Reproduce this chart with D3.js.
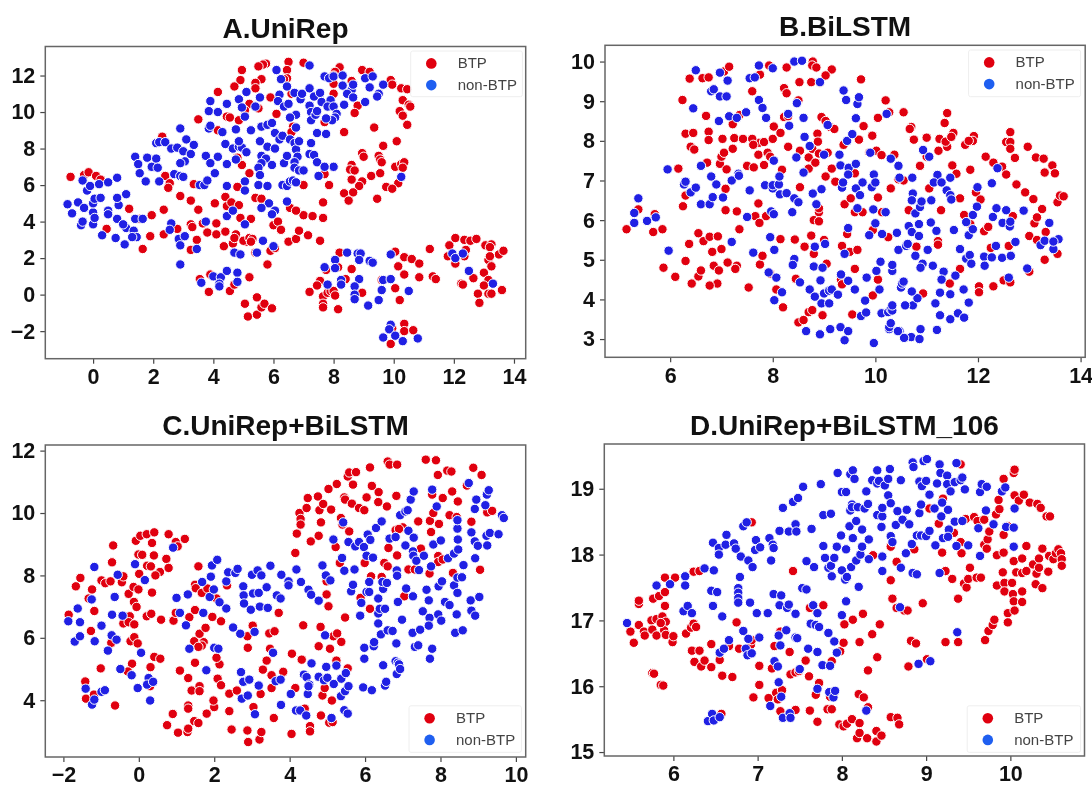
<!DOCTYPE html>
<html>
<head>
<meta charset="utf-8">
<script src="https://cdnjs.cloudflare.com/ajax/libs/d3/7.8.5/d3.min.js"></script>
<style>
  html, body { margin: 0; background: #fff; }
  svg { display: block; filter: blur(0.55px); font-family: "Liberation Sans", Arial, sans-serif; }
</style>
</head>
<body>
<div id="chart"></div>
<script>
var seriesNames = ["BTP", "non-BTP"];

var aBtp = [[5.75,12.65],[5.65,12.6],[5.5,12.5],[6.5,12.75],[6.45,12.3],[7,12.7],[4.95,12.3],[4.9,11.75],[5.6,11.8],[5.4,11.6],[4.7,11.4],[5.4,11.3],[4.15,11.1],[6.45,11.85],[6.35,11.8],[6.6,11],[5.9,10.8],[8.2,12.45],[8.05,12.2],[8,12],[8.95,12.3],[9.2,12.2],[8.6,11.7],[8,11.55],[9.9,11.75],[9.95,11.5],[10.25,11.3],[10.45,11.25],[9.5,11],[8,11],[10.3,10.65],[10.5,10.4],[10.55,10.3],[10.2,10.05],[10.3,9.8],[8.8,10.35],[8.7,9.95],[6.1,9.9],[5.2,10.45],[5.05,10.1],[5.5,10.2],[4.45,9.75],[4.55,9.7],[4.85,9.55],[3.5,9.6],[10.45,9.3],[9.35,9.15],[8.35,8.9],[7.7,9.45],[6.65,9.2],[6.6,8.9],[4.15,9],[2.3,8.65],[10.1,8.4],[9.65,8.15],[8.95,7.75],[9,7.55],[9.5,7.6],[9.55,7.4],[9.6,7.25],[10.05,7],[10.25,7.15],[10.35,7.25],[10.3,6.95],[8.6,7.1],[8.55,6.85],[8.7,6.8],[8.6,6.3],[8.95,6.2],[8.85,5.95],[9.25,6.5],[9.55,6.65],[10.15,6.1],[9.75,5.9],[9.95,5.8],[9.45,5.25],[8.35,5.55],[8.65,5.6],[8.5,5.15],[8,7],[7.7,6.6],[7.85,6],[7,6],[4.95,7.1],[5.2,6.65],[4.8,7.5],[2.4,6.5],[2.55,6.1],[2.5,5.85],[3.35,6.05],[-0.75,6.45],[-0.3,6.55],[-0.15,6.7],[0.1,6.5],[0.25,6.3],[2.9,5.4],[3.25,5.15],[3.5,4.65],[1.2,4.7],[1.55,4.15],[1.95,4.35],[2.35,4.65],[0.45,3.6],[1.9,3.2],[2.35,3.3],[1.65,2.5],[2.8,3.6],[3.25,3.85],[3.3,3.7],[3.65,3.9],[3.45,3],[3.8,3.4],[3.25,2.45],[4.1,3.9],[4.1,3.3],[4.4,3.45],[4.35,2.65],[4.65,2.8],[4.75,3.3],[4.7,3.1],[5.1,2.9],[5,2.95],[5.2,3.1],[5.3,3.05],[5.25,2.9],[4.9,4.2],[5.25,4.15],[5.4,2.3],[5.9,2.4],[6.05,2.55],[5.8,1.65],[6,3.8],[6.15,4],[6.25,3.55],[6.5,2.9],[6.75,3.05],[6.85,3.5],[7.15,3.25],[7.55,2.95],[7,4.35],[7.3,4.3],[7.65,4.2],[6.55,4.75],[6.75,4.6],[4.05,5],[4.45,4.85],[4.4,5.35],[4.6,5.05],[4.85,4.9],[4.8,5.9],[5.4,5.3],[5.6,5.25],[7.65,5.05],[3.9,1.1],[3.55,0.85],[3.85,0.15],[4.55,0.2],[4.7,0.55],[5.2,0.95],[5.05,-0.5],[5.15,-1.2],[5.45,-0.15],[5.45,-1.1],[5.6,-0.7],[5.7,-0.5],[5.95,-0.75],[8.2,2.3],[8.15,1.5],[7.75,1.35],[8.4,0.85],[8.6,1.4],[7.2,0.15],[7.55,0.75],[7.45,0.5],[7.65,-0.1],[7.8,0.1],[7.9,0.2],[8,0.2],[8.05,-0.05],[7.65,-0.5],[7.65,-0.7],[8.15,-0.8],[8.95,0.1],[10.05,2.35],[10.35,2.05],[10.6,1.95],[10.85,1.7],[10.15,1.55],[10.35,1.1],[10.85,0.95],[9.6,0.8],[10.05,0.35],[10.2,-0.3],[11.2,2.5],[11.3,1],[11.4,0.85],[9.95,-1.85],[10.35,-1.6],[10.35,-2],[10.65,-1.95],[9.9,-2.7],[12.05,3.1],[11.85,2.7],[12.35,3],[12.55,2.95],[12.75,3.05],[13.05,2.7],[13.25,2.75],[13.2,2.6],[12.4,2.45],[12.35,2.1],[13.5,2.2],[13.65,2.4],[11.8,2.1],[12.05,1.7],[13.15,1.9],[13.25,1.55],[13.2,2.1],[13,1.2],[13.15,0.8],[12.65,0.9],[13,0.5],[12.8,0.05],[12.85,-0.45],[13.15,0.05],[13.25,0.05],[12.25,0.6],[12.3,0.55],[13.6,0.25]];
var aNon = [[-0.85,4.95],[-0.7,4.45],[-0.5,5.05],[-0.3,4.75],[-0.4,3.8],[-0.35,4],[0,3.85],[0,4.5],[0,5],[0.05,5.25],[0.05,4.2],[0.25,5.3],[0.5,4.6],[0.5,4.4],[0.85,4.9],[0.8,5.3],[1.1,5.5],[0.8,4.15],[1.1,3.65],[1,3.85],[1.35,3.5],[1.45,3.15],[1.3,3.15],[0.3,3.25],[0.75,3.1],[1.05,2.75],[1.4,4.15],[1.65,4.15],[-0.35,6.25],[-0.2,5.7],[-0.1,5.95],[0.2,6.05],[0.5,6.15],[0.8,6.4],[1.4,7.55],[1.5,7.15],[1.55,6.65],[1.75,6.2],[1.8,7.5],[2.05,7],[2.1,7.45],[1.95,7],[2.15,6.95],[2.2,6.2],[2.1,8.3],[2.2,8.35],[2.4,8.35],[2.6,8],[2.9,9.1],[2.8,8.05],[3,7.85],[3.1,8.5],[3.35,8.2],[3.25,7.7],[3.05,7.3],[2.9,7.2],[2.7,6.6],[2.9,6.5],[3,6.45],[3.55,6],[3.7,6],[3.8,6.25],[3.75,7.6],[3.9,7.2],[4.05,6.65],[4.15,7.55],[4.45,7.15],[4.75,7.4],[4.45,5.95],[5.05,6.2],[5.05,5.7],[3.9,10.6],[3.85,10.05],[4.15,10],[4.45,10.45],[4.85,10.7],[5.1,11.1],[4.95,10.25],[5.05,9.75],[5.4,10.3],[3.85,9.1],[3.9,9.25],[4.3,8.9],[4.75,9.05],[5.25,9],[5.6,9.2],[5.8,9.3],[5.95,9.4],[4.4,8.25],[4.65,8],[4.85,8.1],[4.95,8.05],[4.85,8.4],[5.1,7.8],[5.55,8.4],[5.6,7.6],[5.8,8.1],[5.75,7.45],[5.6,7.2],[5.5,6.95],[5.55,6.55],[5.5,6],[5.8,5.95],[5.95,7.1],[6.05,8],[6.05,8.85],[6.2,8.5],[6.3,8.7],[6.35,7.2],[6.45,7.6],[6.55,8.5],[6.7,8.3],[6.75,7.95],[6.85,8.4],[6.8,7.55],[6.7,7.25],[6.7,6.95],[6.85,6.8],[7,6.8],[6.3,6],[6.45,5.95],[6.55,6.2],[6.65,6.25],[6.75,6.15],[7.2,7.7],[7.35,7.65],[7.45,7.25],[7.5,6.5],[8,7],[7.7,7],[7.25,8.3],[7.45,8.85],[7.75,8.8],[6.45,5.1],[5.85,5],[5.6,4.75],[6.05,4.6],[5.95,4.4],[4.45,4.3],[4.65,4.6],[2.6,3.9],[2.55,3.55],[2.85,3.05],[3.05,3.2],[2.9,2.7],[3.45,2.5],[3.75,4],[5.05,3.85],[4.7,2.3],[4.9,2.2],[5.45,2.3],[5.65,2.95],[6,2.65],[2.9,1.65],[4,1],[3.6,0.65],[4.25,0.95],[4.2,0.6],[4.2,0.45],[4.45,1.3],[4.8,1.2],[4.8,0.7],[6.1,12.3],[6.25,11.8],[6.45,11.4],[7.2,12.55],[7.7,11.95],[7.85,11.85],[8,11.95],[8.3,12],[8.3,11.45],[8.6,11.2],[8.65,11.5],[8.45,11],[8.65,10.8],[8.35,10.4],[9.05,11.85],[9.3,11.95],[9.2,11.35],[9.5,11],[9.65,11.5],[9.45,10.85],[9.05,10.55],[6.2,10.95],[6.15,10.6],[6.35,10.3],[6.5,10.45],[6.7,11.05],[6.9,10.7],[6.95,11],[7.2,11.3],[7.35,10.85],[7.2,10.35],[7.55,11.05],[7.25,10],[7.25,9.55],[7.4,9.85],[7.45,10.05],[7.6,10.55],[7.9,10.65],[7.8,10.3],[8,10.3],[8.1,9.9],[8.05,9.7],[7.95,9.55],[7.75,9.65],[6.75,9.85],[6.55,9.7],[6.75,9.15],[5.55,10.8],[7.7,1.5],[8.05,1.9],[8.05,1.45],[8.25,0.8],[8.25,0.55],[7.8,0.55],[8.45,2.3],[8.8,2.25],[8.9,2.25],[8.85,1.9],[9.2,1.85],[9.3,1.75],[8.85,0.85],[8.7,0.45],[8.7,0],[8.7,-0.25],[9.15,-0.6],[9.5,-0.3],[9.65,0.8],[9.6,0.25],[9.9,0.85],[9.9,2.2],[10.5,0.2],[9.9,-1.65],[9.85,-1.9],[10.05,-2.25],[9.65,-2.35],[10.3,-2.55],[10.8,-2.4],[11.95,2.25],[12.05,2],[12.3,2.25],[12.5,1.3],[13.3,0.6],[10.25,6.45]];

var bBtp = [[5.15,5.77],[5.38,6.27],[5.7,6.15],[5.67,5.7],[5.85,5.77],[5.87,4.8],[6.1,4.57],[6.16,7.3],[6.24,9.03],[6.3,8.18],[6.45,8.2],[6.25,6.35],[6.3,6.62],[6.38,9.57],[6.4,7.85],[6.47,7.78],[6.37,5.4],[6.3,4.97],[6.55,5.67],[6.42,4.4],[6.55,4.58],[6.6,4.73],[6.65,5.47],[6.7,8.63],[6.72,7.45],[6.75,8.23],[6.75,8.02],[6.63,9.58],[6.75,9.6],[6.77,5.58],[6.85,4.85],[6.82,5.2],[6.93,5.59],[6.95,4.73],[6.92,4.4],[6.77,4.35],[7,5.27],[6.97,7.42],[7,7.6],[7.02,8.05],[7.05,9.75],[7.1,7.28],[7.05,7.7],[7.08,6.79],[7.08,6.25],[7.15,9.87],[7.12,4.93],[7.25,8.07],[7.22,7.8],[7.3,4.85],[7.3,6.22],[7.35,5.77],[7.27,4.77],[7.22,8.42],[7.35,8.65],[7.42,8.05],[7.5,7.37],[7.53,4.3],[7.66,6.1],[7.73,7.95],[7.72,6.42],[7.6,8.05],[7.62,7.9],[7.63,7.33],[7.6,9.25],[7.75,9.67],[7.72,7.65],[7.74,5.93],[7.83,7.39],[7.83,7.97],[7.87,6.1],[7.9,7.7],[7.95,7.6],[7.93,9.9],[7.75,4.88],[7.8,5.1],[7.95,4.65],[8,8.05],[8.02,8.36],[8.15,8.2],[8.07,4.25],[8.15,5.52],[8.18,7.27],[8.22,9.33],[8.27,9.85],[8.27,9.2],[8.22,8.6],[8.3,8.62],[8.2,3.8],[8.3,7.85],[8.43,5.51],[8.45,4.52],[8.5,9.02],[8.5,3.42],[8.52,9.48],[8.53,7.75],[8.53,6.83],[8.6,3.48],[8.62,5.33],[8.7,7.58],[8.7,7.3],[8.7,3.68],[8.77,3.73],[8.75,5.61],[8.77,7.8],[8.87,8.18],[8.88,7.98],[8.75,9.48],[8.92,9.47],[8.78,10],[8.77,9.9],[8.85,9.85],[9.15,9.8],[9.03,9.65],[8.83,7.45],[8.9,7.68],[9.07,7.7],[8.95,8.6],[9.03,8.5],[9.12,8.35],[9.2,8.3],[8.8,6],[8.9,6.2],[8.9,5.97],[9.03,7.1],[9.15,7.3],[9.22,6.97],[9,5.5],[9.05,4.9],[8.8,5.15],[8.97,3.6],[9.33,4.5],[9.4,6.4],[9.35,5.35],[9.45,5.65],[9.5,5.2],[9.38,7.9],[9.65,5.25],[9.6,4.77],[9.52,6.55],[9.6,6.2],[9.6,7.18],[9.72,9.55],[9.77,8.37],[9.68,8.03],[9.75,6.2],[9.35,4.38],[9.55,3.62],[9.88,7.7],[10.02,7.75],[9.94,8.13],[9.95,4.1],[10.05,6.57],[10.05,8.58],[10.05,4.5],[10.12,7.64],[10.13,6.2],[10.25,5.57],[10.2,9.02],[9.95,5.75],[10.27,8.72],[10.3,6.8],[10.37,7.65],[10.45,7.03],[10.55,7],[10.55,8.72],[10.65,6.25],[10.7,8.35],[10.67,8.3],[10.75,8.03],[10.8,5.33],[10.93,4.15],[10.87,7.37],[11,7.6],[11,8.08],[11.05,6.8],[11.25,8.05],[11.23,7.75],[11.22,5.47],[11.22,5.38],[11.4,8.7],[11.35,8.45],[11.4,7.85],[11.37,7.98],[11.28,6.25],[11.45,4.4],[11.5,7.38],[11.52,8.2],[11.48,8.1],[11.58,7.17],[11.65,4.77],[11.65,6.55],[11.75,7.9],[11.73,6.13],[11.85,7.27],[11.85,5.9],[11.92,8.12],[11.9,8],[11.82,8],[11.96,6.7],[12.02,4.33],[12.02,4.18],[12.05,6.52],[12.15,7.6],[12.12,5.72],[12.2,5.83],[12.25,5.3],[12.3,7.45],[12.47,7.35],[12.3,4.33],[12.5,4.48],[12.55,7.15],[12.6,5.35],[12.55,7.97],[12.63,8.22],[12.63,7.97],[12.63,7.8],[12.63,4.43],[12.68,6.1],[12.72,7.57],[12.75,6.9],[12.92,6.7],[12.97,7.85],[13,5.6],[13,4.7],[13.08,6.53],[13.13,7.58],[13.1,5.92],[13.15,6.07],[13.15,5.5],[13.28,7.55],[13.25,6.28],[13.3,7.2],[13.32,5.7],[13.3,5],[13.45,7.38],[13.5,7.18],[13.55,6.45],[13.6,6.62],[13.67,6.6],[13.55,5.15],[8.9,6.3]];
var bNon = [[5.3,5.93],[5.3,6.18],[5.38,6.55],[5.55,5.98],[5.72,6.07],[5.95,7.28],[5.97,5.23],[6.27,6.9],[6.3,6.97],[6.4,6.7],[6.5,6.82],[6.45,8.82],[6.5,9.78],[6.6,7.37],[6.6,6.4],[6.77,6.4],[6.8,7.1],[6.8,9.25],[6.85,9.3],[6.83,6.58],[6.9,6.9],[6.95,8.5],[6.97,9.12],[6.97,9.72],[7.03,6.57],[7.1,9.12],[7.12,9.52],[7.15,8.62],[7.2,7],[7.2,5.45],[7.3,8.58],[7.33,7.17],[7.34,7.12],[7.5,6.08],[7.48,8.72],[7.55,9.58],[7.55,6.75],[7.62,5.18],[7.65,9.6],[7.73,9.9],[7.73,9.03],[7.8,8.83],[7.85,6.88],[7.87,8.58],[7.92,4.68],[7.95,5.57],[7.97,6.22],[8,6.8],[8,6.88],[8,9.83],[8.02,6.15],[8.02,7.5],[8.03,5.25],[8.03,3.98],[8.07,4.55],[8.12,6.9],[8.13,7.1],[8.14,6.65],[8.18,4.18],[8.27,6.68],[8.3,8.68],[8.32,8.38],[8.38,6.2],[8.42,6.55],[8.42,5.02],[8.39,4.87],[8.42,10],[8.46,7.58],[8.47,8.95],[8.5,6.45],[8.53,4.43],[8.57,10.02],[8.6,8.58],[8.6,7.2],[8.62,8.1],[8.65,3.2],[8.72,7.87],[8.72,4.25],[8.78,6.67],[8.8,4.83],[8.82,4.07],[8.82,5.33],[8.85,6.4],[8.92,9.48],[8.92,3.12],[8.93,4.48],[8.95,3.9],[8.95,6.78],[8.97,4.8],[9,4.15],[9,7.65],[9.02,5.4],[9.07,8.4],[9.1,4.22],[9.1,3.9],[9.15,4.25],[9.12,3.25],[9.27,4.12],[9.32,3.3],[9.33,4.63],[9.32,7.38],[9.3,7.65],[9.35,6.82],[9.37,6.95],[9.38,9.27],[9.43,9.03],[9.4,2.97],[9.4,5.15],[9.47,3.2],[9.47,5.8],[9.48,7.32],[9.47,7.15],[9.47,4.47],[9.45,8],[9.55,8.17],[9.6,4.25],[9.62,8.57],[9.62,6.8],[9.62,7.42],[9.65,8.93],[9.68,9.1],[9.65,6.3],[9.7,6.63],[9.72,3.58],[9.75,6.95],[9.82,3.67],[9.8,3.97],[9.83,4.55],[9.93,6.83],[9.97,7.15],[10,6.95],[9.9,7.7],[9.88,5.62],[9.97,2.9],[9.96,6.27],[10,5.92],[10.02,4.72],[10.08,4.25],[10.1,4.95],[10.13,5.65],[10.2,6.2],[10.12,3.65],[10.22,8.68],[10.3,7.55],[10.25,3.68],[10.27,3.25],[10.27,3.3],[10.3,3.4],[10.3,3.75],[10.33,3.72],[10.33,3.85],[10.33,4.72],[10.33,4.87],[10.42,5.68],[10.45,5.25],[10.47,3.2],[10.47,7.07],[10.5,4.3],[10.52,4.4],[10.55,4.45],[10.45,7.37],[10.72,7.07],[10.65,5.85],[10.7,3.05],[10.73,3.85],[10.73,6.67],[10.6,5.35],[10.63,5.4],[10.71,6.5],[10.78,6.17],[10.85,5.9],[10.71,5.7],[10.85,5.6],[10.78,5.1],[10.92,4.9],[10.88,4.8],[11.12,4.85],[11.02,5.25],[10.87,6.33],[10.9,6.47],[11.09,6.5],[11.08,5.94],[11.19,5.73],[11.21,7.14],[11.14,6.95],[11.29,6.95],[11.05,7.6],[10.93,7.77],[11.39,6.75],[11.46,6.63],[11.48,6.52],[11.46,7.07],[11.53,5.75],[11.65,5.27],[11.77,5.03],[11.84,5.12],[11.87,4.9],[11.56,4.6],[11.33,4.7],[11.29,4.5],[11.26,4.17],[11.17,3.9],[11.26,3.6],[11.2,3.23],[10.88,3.25],[10.86,3],[10.82,4.03],[10.71,4.2],[10.58,3.85],[10.56,3.03],[10.44,3.2],[11.46,3.5],[11.46,4.13],[11.61,3.65],[11.73,3.54],[11.72,4.25],[11.82,3.92],[11.77,5.95],[11.82,5.62],[11.9,5.77],[11.9,6.13],[11.98,6.34],[11.99,6.83],[12.12,5.08],[12.13,4.85],[12.27,5.06],[12.35,5.35],[12.47,5.05],[12.64,5.1],[12.73,5.45],[12.29,6.08],[12.36,6.3],[12.55,6.25],[12.48,5.93],[12.62,5.84],[12.63,5.96],[12.89,6.24],[12.27,6.93],[12.38,7.31],[12.6,4.55],[12.96,4.78],[13.22,5.37],[13.39,5.93],[13.3,5.48],[13.47,5.27],[13.57,5.52],[13.47,5.46]];

var cBtp = [[-1.86,6.74],[-1.67,7.65],[-1.55,7.92],[-1.33,7.26],[-1.24,7.55],[-1.18,6.86],[-1.27,6.22],[-1.42,4.6],[-1.4,4.05],[-1.19,4.18],[-0.99,7.84],[-0.89,7.75],[-0.75,7.81],[-0.71,8.42],[-0.68,8.96],[-0.45,7.78],[-0.41,7.97],[-1.01,5.02],[-0.73,5.84],[-0.63,3.83],[-0.27,7.41],[-0.14,7.63],[-0.01,7.55],[-0.13,7.15],[-0.06,6.99],[-0.24,6.69],[-0.41,6.46],[-0.27,6.5],[-0.12,6.43],[-0.22,5.89],[-0.12,6.02],[-0.03,5.82],[-0.18,5.17],[-0.29,4.92],[0.31,5.06],[0.41,5.39],[0.57,5.33],[0.3,4.45],[-0.08,9.11],[0.04,9.27],[0.21,9.32],[0.41,9.38],[0.35,9.04],[-0.01,8.67],[0.09,8.66],[0.4,8.64],[0.22,8.31],[0.32,8.29],[0.01,8.05],[0.56,8.11],[0.44,8],[0.35,7.45],[0.21,6.69],[0.33,6.77],[0.59,6.58],[0.79,9.32],[0.98,9.07],[1.03,8.93],[1.22,9.17],[0.73,8.53],[0.79,8.24],[0.92,6.55],[0.98,6.8],[0.9,3.56],[0.75,3.2],[1.04,2.96],[1.09,4.95],[1.29,2.98],[1.31,3.09],[1.31,4.71],[1.31,3.83],[1.31,3.73],[1.4,4.31],[1.34,6.66],[1.49,6.89],[1.49,7.7],[1.51,7.59],[1.58,8.29],[1.47,5.89],[1.72,5.86],[1.61,6.13],[1.67,5.75],[1.58,5.71],[1.77,6.32],[1.49,5.2],[1.47,3.33],[1.58,3.27],[1.61,4.45],[1.61,4.29],[1.8,3.57],[2,3.78],[1.98,3.99],[2.09,4.69],[2.18,4.48],[2.14,5.15],[2.06,5.36],[1.95,6.67],[2.18,6.53],[1.67,7.44],[1.82,7.58],[2.06,7.26],[2.34,7.68],[2.4,3.65],[2.46,3.06],[2.4,4.21],[2.6,4.31],[2.88,6.05],[2.89,5.68],[2.88,3.03],[2.9,2.66],[3.02,6.39],[3.04,3.78],[3.2,2.74],[3.25,2.98],[3.23,4.2],[3.29,4.98],[3.39,5.27],[3.46,6.14],[3.48,5.65],[3.6,6.21],[3.71,6.8],[3.52,4.8],[3.52,4.39],[3.58,3.43],[3.83,4.91],[4.05,2.92],[4.06,5.49],[4.15,4.39],[4.32,5.3],[4.36,6.4],[4.4,3.73],[4.54,3.17],[4.54,3],[4.77,5.73],[4.82,6.35],[4.83,3.51],[4.87,4.15],[4.93,4.39],[4.98,7.81],[4.98,7.39],[5.03,7.01],[5.07,5.65],[5.05,3.28],[5.14,3.3],[5.12,3.99],[5.16,6.05],[5.26,6.14],[5.37,5.87],[5.24,5.27],[5.54,5.02],[5.47,6.65],[4.15,8.72],[4.19,9.34],[4.26,10],[4.29,9.81],[4.29,9.63],[4.45,10.16],[4.48,10.48],[4.56,9.09],[4.75,10.53],[4.79,10.09],[4.77,9.27],[4.83,9.7],[4.89,10.29],[5.1,10.11],[5.03,10.77],[5.25,10.93],[5.22,8.91],[5.33,8.4],[5.36,9.84],[5.4,9.63],[5.45,10.5],[5.47,10.43],[5.54,11.17],[5.58,11.3],[5.76,11.31],[5.68,10.91],[5.65,10.3],[5.58,9.41],[5.84,10.16],[5.98,10.09],[6.04,10.5],[6.13,11.46],[6.18,10.87],[6.36,10.67],[6.35,10.35],[6.58,10.21],[6.6,11.65],[6.65,11.55],[6.85,11.55],[6.83,10.55],[7,9.54],[6.81,9.45],[6.62,8.88],[6.85,8.64],[5.99,8.4],[6.16,7.97],[6.44,7.95],[6.51,8.4],[6.6,8.29],[5.88,7.28],[6.13,6.93],[7.04,7.33],[7.15,8.19],[7.32,8.19],[7.41,9.73],[7.48,8.86],[7.61,11.71],[7.88,11.69],[7.93,11.22],[7.72,9.75],[7.81,10],[7.78,10.59],[7.75,9.39],[7.96,9.65],[8.06,10.48],[8.18,11.36],[8.29,11.33],[8.31,10.69],[8.46,10.37],[8.24,9.93],[8.43,9.87],[7.71,8.06],[7.94,8.62],[7.94,8.43],[8.06,8.51],[8.33,8.08],[8.7,10.88],[8.87,11.45],[9.09,11.22],[8.82,9.72],[9.24,10.02],[9.37,10.07],[9.05,8.18],[6.9,9.49]];
var cNon = [[-1.87,6.53],[-1.62,6.94],[-1.7,5.88],[-1.56,6.05],[-1.56,6.5],[-1.25,7.23],[-1.18,8.27],[-1.17,5.89],[-1.41,4.37],[-1.24,3.86],[-1.18,4.02],[-0.99,6.39],[-0.99,4.27],[-0.9,4.32],[-0.82,5.59],[-0.71,6.74],[-0.72,6.08],[-0.59,5.94],[-0.64,7.31],[-0.56,8.02],[-0.43,6.71],[-0.49,5],[-0.19,4.8],[-0.1,8.36],[0.16,7.85],[-0.03,4.39],[0.06,5.52],[0.26,4.71],[0.22,4.5],[0.38,4.59],[0.3,3.99],[0.91,8.89],[1,7.28],[1.09,6.8],[1.25,6.4],[1.3,7.39],[1.34,5.65],[1.68,7.79],[1.71,6.8],[1.79,4.96],[1.88,7.31],[1.91,7.96],[1.94,8.32],[1.99,7.55],[2.08,8.5],[2,5.68],[2.11,5.65],[2.14,7.14],[2.32,6.94],[2.32,7.81],[2.37,8.1],[2.5,6.33],[2.56,8.08],[2.62,8.21],[2.69,6.13],[2.77,7.65],[2.78,7.36],[2.79,7.1],[2.71,4.9],[2.77,4.59],[2.73,4.05],[2.89,4.15],[2.93,4.66],[2.97,6.9],[3,8.02],[3.03,7.42],[3.07,6.19],[3.08,3.55],[3.15,8.16],[3.18,4.47],[3.18,7.44],[3.25,8],[3.21,7],[3.39,7.62],[3.42,6.96],[3.49,8.31],[3.56,5.52],[3.63,4.61],[3.66,7.36],[3.76,7.26],[3.76,4.66],[3.77,3.85],[3.78,8.02],[3.97,7.81],[3.97,7.68],[4.03,4.2],[4.18,8.19],[4.17,3.67],[4.28,3.67],[4.3,7.79],[4.38,4.82],[4.45,4.74],[4.44,3.51],[4.5,7.54],[4.57,7.38],[4.48,4.2],[4.52,4.5],[4.5,4.45],[4.58,5.18],[4.77,7.19],[4.77,4.75],[4.87,8.32],[4.91,4.64],[4.94,6.08],[4.97,5.07],[5,4.72],[4.96,8],[5.08,7.84],[5.11,3.43],[5.16,9.15],[5.17,4.52],[5.24,5.11],[5.37,4.69],[5.39,8.56],[5.36,4.13],[5.42,9.7],[5.45,8.15],[5.45,3.68],[5.47,4.29],[5.49,4.87],[5.54,3.57],[5.56,4.45],[5.56,9.07],[5.63,7.49],[5.68,7.7],[5.72,8.19],[5.74,8.93],[5.84,9.07],[5.87,6.71],[5.9,7.12],[5.97,8.91],[5.98,5.68],[5.98,5.33],[5.95,4.41],[6.11,7.79],[6.04,8.63],[6.04,7.47],[6.11,7.47],[6.07,9.31],[6.14,9.14],[6.21,8.57],[6.18,4.32],[6.23,5.73],[6.24,5.86],[6.29,9.52],[6.44,9.73],[6.35,7.26],[6.35,6.78],[6.35,6.46],[6.39,6.93],[6.42,6.11],[6.48,7.57],[6.46,7.79],[6.53,6.93],[6.53,4.47],[6.56,4.59],[6.48,5.12],[6.58,7.76],[6.6,6.24],[6.73,6.22],[6.65,9.18],[6.81,9.23],[6.83,5.82],[6.84,4.84],[6.81,5.25],[6.87,5.2],[6.9,5.15],[6.93,5],[6.84,8.16],[6.85,7.99],[6.87,7.15],[6.98,6.58],[6.93,9.93],[7.07,8.96],[7.07,10.05],[7.13,10.09],[7.15,9.43],[7.09,7.58],[7.21,10.43],[7.29,10.69],[7.29,9.21],[7.27,8.77],[7.28,8.63],[7.36,8.47],[7.43,8.17],[7.27,7.33],[7.26,6.16],[7.32,5.71],[7.41,5.76],[7.46,6.26],[7.53,6.85],[7.56,8.63],[7.63,7.54],[7.69,7.2],[7.71,6.64],[7.69,6.39],[7.75,8.29],[7.72,5.33],[7.78,5.65],[7.78,10.75],[7.81,8.99],[7.9,10.21],[8.01,9.12],[7.95,7.65],[8.04,7.81],[7.94,6.75],[8.02,6.55],[8.12,7.15],[8.24,7.05],[8.2,8.55],[8.36,8.7],[8.36,7.68],[8.45,7.93],[8.57,7.94],[8.45,7.44],[8.39,6.16],[8.59,6.24],[8.43,6.75],[8.47,8.83],[8.46,9.15],[8.45,9.5],[8.45,9.77],[8.61,8.33],[8.75,10.96],[8.8,7.2],[8.82,6.87],[8.92,6.71],[8.82,9.38],[8.91,9.09],[8.91,10.13],[8.95,10.43],[8.92,8.55],[8.99,8.95],[9.03,7.31],[9.19,10.25],[9.23,10.59],[9.28,10.73],[9.24,8.96],[9.22,9.27],[9.31,9.36],[9.54,9.32],[9.63,9.93],[9.68,9.84]];

var dBtp = [[5.49,16.83],[5.53,16.66],[5.59,17.25],[5.59,17.3],[5.59,16.93],[5.65,16.83],[5.66,16.77],[5.74,17],[5.75,16.86],[5.76,17.33],[5.8,17.02],[5.8,16.77],[5.83,17.37],[5.87,17.06],[5.9,17.43],[5.9,17.65],[5.9,17.22],[5.91,16.98],[5.89,16.85],[5.91,16.78],[5.85,16.96],[5.99,16.67],[6,16.76],[6.02,17.65],[5.75,16.2],[5.77,16.19],[5.85,16.02],[5.88,16.01],[6.15,16.8],[6.21,16.89],[6.24,16.95],[6.27,16.9],[6.24,17.74],[6.31,17.75],[6.22,16.54],[6.31,16.54],[6.25,16.37],[6.33,16.3],[6.37,16.39],[6.45,16.64],[6.45,16.29],[6.55,16.4],[6.58,16.16],[6.7,16.14],[6.75,16.97],[6.66,16.61],[6.78,16.57],[6.92,16.63],[6.93,16.7],[6.93,18.49],[7.02,16.31],[7.02,16.02],[6.95,15.83],[7.13,15.82],[7.17,16.27],[7.2,16.61],[7.22,15.9],[7.24,15.8],[7.27,15.62],[7.29,15.94],[7.27,16.83],[7.38,16.52],[7.39,16.18],[7.45,16.21],[7.49,16.23],[7.42,17.75],[7.45,15.64],[7.57,16.39],[7.61,16.15],[7.62,15.63],[7.62,17.19],[7.69,15.87],[7.71,15.46],[7.73,16.05],[7.78,17.23],[7.83,15.65],[7.88,15.65],[7.86,15.84],[7.88,16.38],[7.98,16.53],[8.03,16.94],[8.02,16.66],[7.97,15.42],[8.02,15.39],[8.06,15.43],[8.13,17.01],[8.12,15.5],[8.18,15.21],[8.2,15.88],[8.21,16.67],[8.21,15.29],[8.21,15.44],[8.25,17.1],[8.26,15.83],[8.3,15.21],[8.31,16.24],[8.31,15.68],[8.36,16.79],[8.37,17.99],[8.41,15.16],[8.41,15.32],[8.42,16.44],[8.45,16.94],[8.47,15.25],[8.58,15.53],[8.58,17.61],[8.6,17.33],[8.58,18.12],[8.65,17.89],[8.65,17.19],[8.66,15.52],[8.68,15.42],[8.74,17.15],[8.78,17.15],[8.79,16.3],[8.82,16.69],[8.88,16.65],[8.86,18.08],[8.96,17.26],[9.01,16.41],[9.04,18.7],[9.15,18.47],[9.19,18.03],[9.23,17.75],[9.23,16.67],[9.2,18.85],[9.31,17.63],[9.33,18.33],[9.38,16.67],[9.38,17.33],[9.41,19.37],[9.41,18.19],[9.42,18.02],[9.45,17.56],[9.48,17.5],[9.5,17.63],[9.52,17.8],[9.47,18.54],[9.57,18.57],[9.61,18.51],[9.6,17.65],[9.65,17.65],[9.69,18.53],[9.7,16.7],[9.69,18.15],[9.73,18.23],[9.72,18.09],[9.75,18.35],[9.74,16.84],[9.79,16.93],[9.81,17.01],[9.83,18.61],[9.84,17.99],[9.84,17.53],[9.86,18.83],[9.87,18.69],[9.92,19.15],[9.92,18.3],[9.92,18.03],[9.91,17.73],[9.93,17.57],[9.93,17.44],[9.97,18.43],[9.97,17.11],[9.97,16.97],[10.02,17.57],[10.03,17.4],[10.04,17.29],[10.05,17.15],[10.04,19.24],[10.05,19.29],[10.05,18.9],[10.04,17.9],[10.07,17.73],[10.1,18.82],[10.14,17.72],[10.14,17.44],[10.14,17.28],[10.16,18.91],[10.14,17.94],[10.19,18.13],[10.19,17.75],[10.23,18.79],[10.27,17.85],[10.31,17.71],[10.32,18.77],[10.3,17.55],[10.34,17.94],[10.34,17.8],[10.36,18.71],[10.38,18.09],[10.38,17.49],[10.43,18.58],[10.47,18.58],[10.45,17.74],[10.46,17.98],[10.51,17.93],[10.54,18.02],[10.57,18.08],[10.6,18.02],[10.61,17.93],[10.61,17.83],[6.57,15.58]];
var dNon = [[5.45,16.96],[5.8,17.53],[5.96,17.55],[6.14,17.67],[6.14,17.53],[6.12,17.14],[6.17,17.22],[6.22,17.11],[6.37,17.79],[6.48,17.76],[6.47,18.18],[6.54,18.1],[6.54,18],[6.45,17.45],[6.52,17.43],[6.47,17.22],[6.58,17.06],[6.55,16.51],[6.6,16.57],[6.66,16.7],[6.63,18.3],[6.62,18.15],[6.72,18.17],[6.74,18.09],[6.8,17.97],[6.79,17.66],[6.77,17.49],[6.77,17.42],[6.77,17.34],[6.77,17.27],[6.83,16.84],[6.83,18.43],[6.87,18.49],[6.89,17.91],[6.94,17.81],[6.91,17.27],[6.89,16.72],[6.86,16.57],[6.88,16.47],[6.93,16.5],[6.98,18.22],[6.97,18.07],[7.03,18.11],[6.99,17.11],[7.02,16.74],[7.12,17.11],[7.14,18.25],[7.15,15.7],[7.16,17.91],[7.18,18.15],[7.19,18.1],[7.19,17.4],[7.2,16.38],[7.24,16.3],[7.25,16.06],[7.26,17.23],[7.25,16.77],[7.27,16.62],[7.28,17.38],[7.28,15.84],[7.3,18.71],[7.26,18.36],[7.3,15.52],[7.34,16.85],[7.35,17.19],[7.37,18.35],[7.37,17.24],[7.38,15.59],[7.39,15.52],[7.42,18.8],[7.45,18.46],[7.46,18.35],[7.45,17.1],[7.45,16.74],[7.47,16.73],[7.48,18.86],[7.5,16.26],[7.53,17.49],[7.54,19.03],[7.58,17.47],[7.58,17.9],[7.6,16.57],[7.63,16.95],[7.64,18.39],[7.66,17.23],[7.67,17.81],[7.69,16.93],[7.71,15.96],[7.71,16.52],[7.71,17.11],[7.73,16.9],[7.75,19.07],[7.78,18.13],[7.77,16.32],[7.78,18.6],[7.8,17.95],[7.84,17.8],[7.84,16.81],[7.86,16.31],[7.87,18.62],[7.87,17.83],[7.88,17.67],[7.85,15.91],[7.9,15.83],[7.92,15.93],[7.91,17.95],[7.91,16.68],[7.94,16.51],[7.94,18.12],[7.95,19.24],[7.99,18.29],[8,17.76],[8,18.95],[8,17.08],[8.05,18.95],[8.04,17.62],[8.06,17.66],[8.05,17.29],[8.05,18.08],[8.09,18.43],[8.1,18.67],[8.12,18.76],[8.12,18.72],[8.11,17.81],[8.1,19.22],[8.13,19.28],[8.15,19.15],[8.13,18.25],[8.17,18.51],[8.17,17.91],[8.19,18.72],[8.2,17.51],[8.22,18],[8.24,18.38],[8.24,18.12],[8.27,18.7],[8.29,18.96],[8.31,18.77],[8.32,18.23],[8.32,17.93],[8.29,15.63],[8.36,19.13],[8.42,18.6],[8.42,19.08],[8.42,19.28],[8.44,19.12],[8.47,18.42],[8.48,18.58],[8.48,18.71],[8.48,17.97],[8.48,17.75],[8.51,19.05],[8.55,19.15],[8.55,18.9],[8.57,19.3],[8.58,18.78],[8.58,18.28],[8.6,18.19],[8.64,18.45],[8.66,18.66],[8.7,19.13],[8.69,17.2],[8.7,17.8],[8.72,18.53],[8.76,18.02],[8.77,18.68],[8.8,18.46],[8.83,18.16],[8.84,17.72],[8.89,17.7],[8.84,19.4],[8.85,19.33],[8.89,18.29],[8.92,19.11],[8.92,18.63],[8.91,16.34],[8.94,18.76],[8.94,18.29],[8.95,19.04],[9,18.28],[8.97,19.42],[9.01,19.45],[9,19.12],[9.05,16.38],[9.04,18.91],[9.04,18.36],[9.1,18.7],[9.11,18.14],[9.13,19.08],[9.16,19.37],[9.16,17.72],[9.17,19.24],[9.19,18.79],[9.18,18.58],[9.2,18.25],[9.25,19.2],[9.25,19.07],[9.26,18.68],[9.27,18.38],[9.26,18.27],[9.29,18.96],[9.34,19.1],[9.36,19.39],[9.36,18.13],[9.37,16.82],[9.34,18.5],[9.41,19.13],[9.43,19.17],[9.43,18.51],[9.46,18.99],[9.5,18.14],[9.62,18.4],[9.64,18.95],[9.64,17.98],[9.66,19.07],[9.71,18.67],[9.72,19.03],[9.8,18.46],[9.9,18.96],[9.94,19.02],[9.95,18.42],[10.04,18.41],[10.05,18.7],[10.04,18.12],[6.41,15.47],[6.46,15.58],[6.48,15.48],[6.55,15.53]];

var aTicksX = [0, 2, 4, 6, 8, 10, 12, 14], aTicksY = [-2, 0, 2, 4, 6, 8, 10, 12];
var bTicksX = [6, 8, 10, 12, 14], bTicksY = [3, 4, 5, 6, 7, 8, 9, 10];
var cTicksX = [-2, 0, 2, 4, 6, 8, 10], cTicksY = [4, 6, 8, 10, 12];
var dTicksX = [6, 7, 8, 9, 10], dTicksY = [15, 16, 17, 18, 19];

var red = "#e0000f", blue = "#2020e4", legendBlue = "#1f5ff0";

var panels = [
    { title: "A.UniRep", btp: aBtp, non: aNon, xt: aTicksX, yt: aTicksY, xd: [-1.59, 14.39], yd: [-3.51, 13.59],
      box: [45.3, 46.5, 480.4, 312.2], titleY: 37.5, legend: [410.7, 51, 111.7, 45.7] },
    { title: "B.BiLSTM", btp: bBtp, non: bNon, xt: bTicksX, yt: bTicksY, xd: [4.73, 14.09], yd: [2.54, 10.41],
      box: [605, 45.3, 480.2, 312], titleY: 36, legend: [968.6, 50, 112, 46.7] },
    { title: "C.UniRep+BiLSTM", btp: cBtp, non: cNon, xt: cTicksX, yt: cTicksY, xd: [-2.48, 10.26], yd: [2.18, 12.18],
      box: [45.3, 445, 480.4, 312], titleY: 435, legend: [409, 705.8, 112.4, 46.5] },
    { title: "D.UniRep+BiLSTM_106", btp: dBtp, non: dNon, xt: dTicksX, yt: dTicksY, xd: [5.18, 10.88], yd: [14.94, 19.68],
      box: [604.3, 444, 480.2, 312], titleY: 434.7, legend: [967.2, 705.8, 113.4, 46.5] }
];

var svg = d3.select("#chart").append("svg")
    .attr("width", 1092)
    .attr("height", 786);

panels.forEach(function (p) {
    var left = p.box[0], top = p.box[1], w = p.box[2], h = p.box[3];

    var x = d3.scaleLinear().domain(p.xd).range([left, left + w]);
    var y = d3.scaleLinear().domain(p.yd).range([top + h, top]);

    svg.append("text")
        .attr("x", left + w / 2)
        .attr("y", p.titleY)
        .attr("text-anchor", "middle")
        .attr("font-size", 28)
        .attr("font-weight", "bold")
        .attr("fill", "#111")
        .text(p.title);

    [["BTP", p.btp, red], ["non-BTP", p.non, blue]].forEach(function (s) {
        svg.append("g").selectAll("circle")
            .data(s[1])
            .enter().append("circle")
            .attr("cx", function (d) { return x(d[0]); })
            .attr("cy", function (d) { return y(d[1]); })
            .attr("r", 4.7)
            .attr("fill", s[2])
            .attr("stroke", "#fff")
            .attr("stroke-width", 1);
    });

    var xAxis = d3.axisBottom(x).tickValues(p.xt).tickSize(5).tickPadding(5).tickFormat(d3.format("d"));
    var yAxis = d3.axisLeft(y).tickValues(p.yt).tickSize(5).tickPadding(5).tickFormat(d3.format("d"));

    [[xAxis, "translate(0," + (top + h) + ")"], [yAxis, "translate(" + left + ",0)"]].forEach(function (a) {
        var g = svg.append("g").attr("transform", a[1]).call(a[0]);
        g.select(".domain").remove();
        g.selectAll("line").attr("stroke", "#444").attr("stroke-width", 1.2);
        g.selectAll("text")
            .attr("font-family", "'Liberation Sans', Arial, sans-serif")
            .attr("font-size", 21.5)
            .attr("font-weight", "bold")
            .attr("fill", "#111");
    });

    svg.append("rect")
        .attr("x", left).attr("y", top)
        .attr("width", w).attr("height", h)
        .attr("fill", "none")
        .attr("stroke", "#666")
        .attr("stroke-width", 1.5);

    var lx = p.legend[0], ly = p.legend[1];
    svg.append("rect")
        .attr("x", lx).attr("y", ly)
        .attr("width", p.legend[2]).attr("height", p.legend[3])
        .attr("rx", 2)
        .attr("fill", "#fff")
        .attr("fill-opacity", 0.8)
        .attr("stroke", "#eee");

    seriesNames.forEach(function (name, i) {
        var rowY = ly + 12.4 + i * 21.7;
        svg.append("circle")
            .attr("cx", lx + 20.6).attr("cy", rowY)
            .attr("r", 5.3)
            .attr("fill", i == 0 ? red : legendBlue);
        svg.append("text")
            .attr("x", lx + 47).attr("y", rowY + 5)
            .attr("font-size", 15)
            .attr("fill", "#444")
            .text(name);
    });
});
</script>
</body>
</html>
